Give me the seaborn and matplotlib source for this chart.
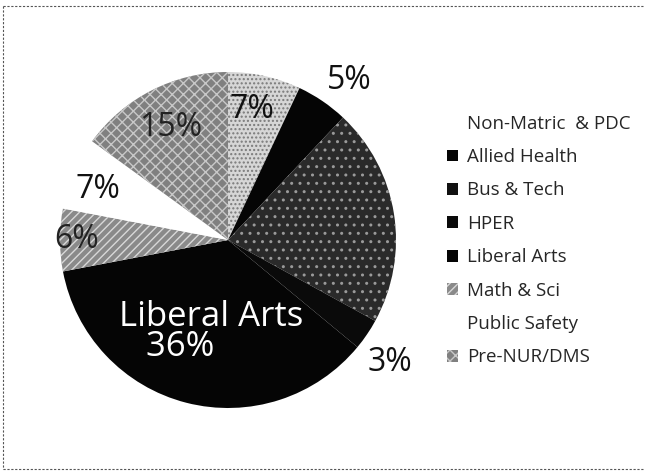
import matplotlib
matplotlib.use("Agg")
import matplotlib.pyplot as plt
import seaborn as sns
import numpy as np
from matplotlib.lines import Line2D

# ---- data ----
categories = ["Non-Matric  & PDC", "Allied Health", "Bus & Tech", "HPER",
              "Liberal Arts", "Math & Sci", "Public Safety", "Pre-NUR/DMS"]
values = [7, 5, 21, 3, 36, 6, 7, 15]
pct_labels = ["7%", "5%", "", "3%", "36%", "6%", "7%", "15%"]

# ---- style ----
sns.set_theme(style="white")
plt.rcParams['font.family'] = ['Open Sans', 'DejaVu Sans']
plt.rcParams['hatch.linewidth'] = 1.0

face = ['#d6d6d6', '#050505', '#2a2a2a', '#0a0a0a', '#050505', '#8a8a8a', '#ffffff', '#808080']
hatch_col = ['#7a7a7a', '#050505', '#9a9a9a', '#0a0a0a', '#050505', '#d8d8d8', '#ffffff', '#c8c8c8']
hatches = ['....', None, '..', None, None, '////', None, 'xxx']
# label radius (fraction of pie radius) and angular offset (deg)
lab_pos = [(0.79, 2), (1.19, -3), (0.0, 0), (1.21, -3), (0.557, 3.9), (0.90, 0), (0.83, 2), (0.75, 0)]
lab_col = ['#111111', '#111111', '#111111', '#111111', 'white', '#222222', '#111111', '#222222']

W, H = 645, 472
fig = plt.figure(figsize=(W / 100, H / 100), dpi=100)
cx, cy, R = 228, 240, 168
ax = fig.add_axes([(cx - R) / W, (H - cy - R) / H, 2 * R / W, 2 * R / H])

wedges, _ = ax.pie(values, startangle=90, counterclock=False, radius=1,
                   colors=face, wedgeprops=dict(linewidth=0))
for w, h, hc in zip(wedges, hatches, hatch_col):
    if h:
        w.set_hatch(h)
        w.set_edgecolor(hc)
ax.set_xlim(-1, 1)
ax.set_ylim(-1, 1)
ax.set_aspect('equal')
ax.axis('off')

for w, lab, (r, dth), col, cat in zip(wedges, pct_labels, lab_pos, lab_col, categories):
    if not lab:
        continue
    mid = np.deg2rad((w.theta1 + w.theta2) / 2 + dth)
    x, y = r * np.cos(mid), r * np.sin(mid)
    if cat == "Liberal Arts":
        ax.text(x, y, f"{cat}\n   {lab}", ha='center', va='center', multialignment='left',
                fontsize=25, color=col, linespacing=0.82)
    else:
        ax.text(x, y, lab, ha='center', va='center', fontsize=23, color=col)

leg = fig.legend(wedges, categories, loc='center left',
                 bbox_to_anchor=(447 / W, 1 - 240.5 / H), frameon=False, fontsize=13.5,
                 handlelength=0.6, handleheight=0.6, handletextpad=0.45,
                 labelspacing=0.82, borderpad=0, borderaxespad=0)
hs = leg.legend_handles
hs[0].set_visible(False)
hs[6].set_visible(False)
hs[2].set_hatch(None)
hs[2].set_facecolor('#111111')

# scanned frame lines
kw = dict(transform=fig.transFigure, color='#555555', linewidth=0.8, linestyle=(0, (2, 1.5)))
fig.add_artist(Line2D([3 / W, 1], [1 - 6 / H, 1 - 6 / H], **kw))
fig.add_artist(Line2D([3 / W, 3 / W], [1 - 6 / H, 1 - 469 / H], **kw))
fig.add_artist(Line2D([3 / W, 1], [1 - 469 / H, 1 - 469 / H], **kw))

fig.savefig('out.png', dpi=100)
